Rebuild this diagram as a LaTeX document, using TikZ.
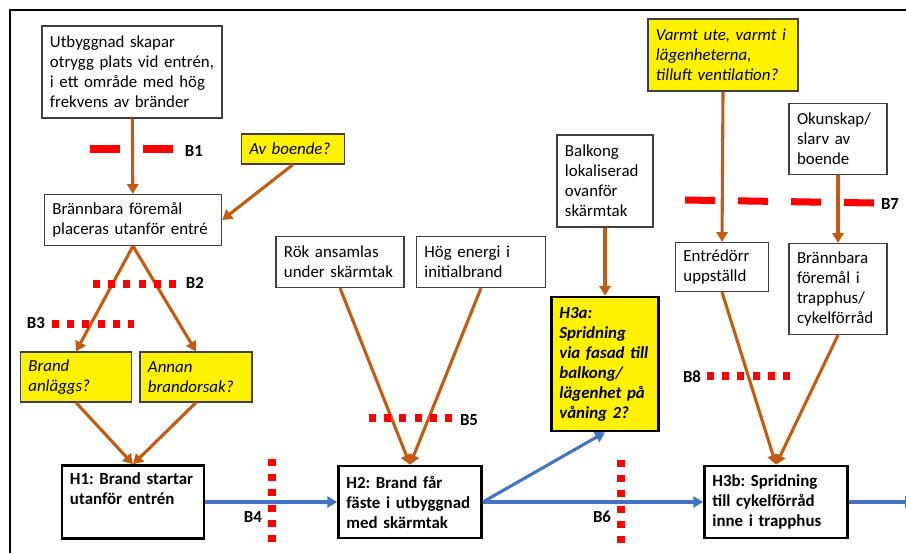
\documentclass[tikz,border=0pt]{standalone}
\usepackage{fontspec}
\setmainfont{Carlito}
\usetikzlibrary{arrows.meta}
\frenchspacing

\definecolor{rust}{HTML}{C55A11}
\definecolor{flow}{HTML}{4472C4}
\definecolor{alarm}{HTML}{FF0000}

\tikzset{
    box/.style={rectangle, draw=black!75, line width=0.8pt, fill=white, align=left,
        inner xsep=0.2cm, inner ysep=2pt, font=\fontsize{12}{14.2}\selectfont},
    ask/.style={box, fill=yellow, font=\fontsize{12}{14.2}\selectfont\itshape},
    hazard/.style={box, draw=black, line width=1.8pt, font=\fontsize{12}{14.2}\selectfont\bfseries},
    cause/.style={draw=rust, line width=2.2pt, -{Triangle[width=8pt,length=7pt]}},
    spread/.style={draw=flow, line width=2.2pt, -{Triangle[width=8pt,length=7pt]}},
    cutdash/.style={draw=alarm, line width=5pt, dash pattern=on 21.3pt off 16.4pt},
    cutdot/.style={draw=alarm, line width=5pt, dash pattern=on 5pt off 5.8pt},
    blabel/.style={font=\fontsize{12}{14.2}\selectfont\bfseries, inner sep=0pt},
}

\begin{document}
\begin{tikzpicture}[x=0.025cm, y=-0.025cm]
    \useasboundingbox (0,0) rectangle (906,553);
    \draw [line width=1.4pt] (10,553) -- (10,10) -- (906,10);

    \node [box, text width=4.1cm, minimum height=2.3cm] (grow) at (132,72) {Utbyggnad skapar\\otrygg plats vid entrén,\\i ett område med hög\\frekvens av bränder};
    \node [box, text width=4.03cm, minimum height=1.275cm] (place) at (133,220) {Brännbara föremål\\placeras utanför entré};
    \node [ask, text width=2.18cm, minimum height=0.75cm] (resid) at (293,149) {Av boende?};
    \node [ask, text width=2.38cm, minimum height=1.25cm] (arson) at (76,377) {Brand\\anläggs?};
    \node [ask, text width=2.4cm, minimum height=1.25cm] (other) at (196,377) {Annan\\brandorsak?};
    \node [hazard, text width=3.15cm, minimum height=1.825cm] (hone) at (133,502) {H1: Brand startar\\utanför entrén\\\strut};

    \node [box, text width=2.8cm, minimum height=1.275cm] (smoke) at (340,262) {Rök ansamlas\\under skärmtak};
    \node [box, text width=2.83cm, minimum height=1.275cm] (energy) at (481,262) {Hög energi i\\initialbrand};
    \node [hazard, text width=3.18cm, minimum height=1.8cm] (htwo) at (410,502) {H2: Brand får\\fäste i utbyggnad\\med skärmtak};

    \node [box, text width=2.0cm, minimum height=2.3cm] (balc) at (605,181) {Balkong\\lokaliserad\\ovanför\\skärmtak};
    \node [hazard, fill=yellow, font=\fontsize{12}{14.2}\selectfont\bfseries\itshape, text width=2.28cm, minimum height=3.35cm] (hthreea) at (605,364) {H3a:\\Spridning\\via fasad till\\balkong/\\lägenhet på\\våning 2?};

    \node [ask, text width=3.35cm, minimum height=1.8cm] (warm) at (723,55) {Varmt ute, varmt i\\lägenheterna,\\tilluft ventilation?};
    \node [box, text width=2.05cm, minimum height=1.775cm] (care) at (838,139) {Okunskap/\\slarv av\\boende};
    \node [box, text width=1.93cm, minimum height=1.225cm] (door) at (722,267) {Entrédörr\\uppställd};
    \node [box, text width=2.05cm, minimum height=2.275cm] (stuff) at (838,289) {Brännbara\\föremål i\\trapphus/\\cykelförråd};
    \node [hazard, text width=3.18cm, minimum height=1.8cm] (hthreeb) at (776,502) {H3b: Spridning\\till cykelförråd\\inne i trapphus};
    \coordinate (beyond) at (915,502);

    \draw [cause] (grow) -- (place);
    \draw [cause] (resid.south) -- (place.east);
    \draw [cause] (place.south) -- (arson.north);
    \draw [cause] (place.south) -- (other.north);
    \draw [cause] (arson.south) -- (hone.north);
    \draw [cause] (other.south) -- (hone.north);
    \draw [cause] (smoke.south) -- (htwo.north);
    \draw [cause] (energy.south) -- (htwo.north);
    \draw [cause] (balc) -- (hthreea);
    \draw [cause] (warm.south) -- (door.north);
    \draw [cause] (care) -- (stuff);
    \draw [cause] (door.south) -- (hthreeb.north);
    \draw [cause] (stuff.south) -- (hthreeb.north);

    \draw [spread] (hone) -- (htwo);
    \draw [spread] (htwo.east) -- (hthreea.south);
    \draw [spread] (htwo) -- (hthreeb);
    \draw [spread] (hthreeb) -- (beyond);

    \draw [cutdash] (90,149) -- (173,149);
    \draw [cutdot] (93,284) -- (176,284);
    \draw [cutdot] (52,324) -- (134,324);
    \draw [cutdot] (272,459) -- (272,542);
    \draw [cutdot] (369,418) -- (452,418);
    \draw [cutdot] (621,460) -- (621,543);
    \draw [cutdash] (685,200) -- (874,203);
    \draw [cutdot] (707,376) -- (791,376);

    \node [blabel] (bone) at (194,151) {B1};
    \node [blabel] (btwo) at (195,283) {B2};
    \node [blabel] (bthree) at (36,323) {B3};
    \node [blabel] (bfour) at (253,517) {B4};
    \node [blabel] (bfive) at (469,420) {B5};
    \node [blabel] (bsix) at (602,517) {B6};
    \node [blabel] (bseven) at (890,204) {B7};
    \node [blabel] (beight) at (692,377) {B8};
\end{tikzpicture}
\end{document}
